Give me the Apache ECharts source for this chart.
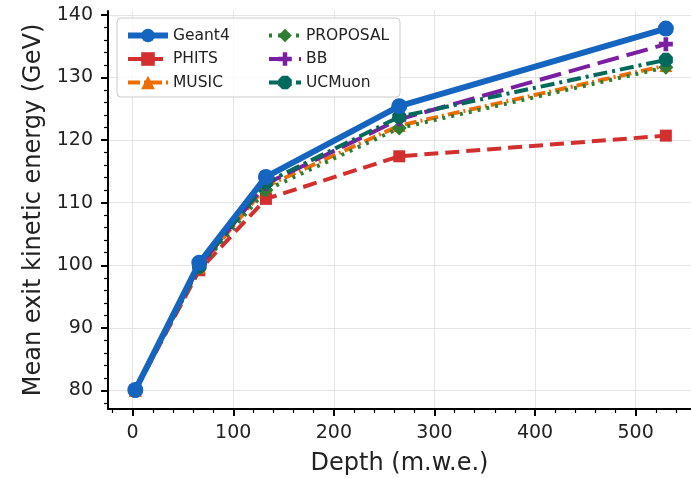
<!DOCTYPE html>
<html>
<head>
<meta charset="utf-8">
<script src="https://cdn.jsdelivr.net/npm/echarts@6/dist/echarts.min.js"></script>
<style>
  html, body { margin: 0; padding: 0; background: #ffffff; }
  #chart { width: 691px; height: 478px; }
</style>
</head>
<body>
<div id="chart"></div>
<script>
// Depth below surface in metres of water equivalent
const depths = [2.65, 66.25, 132.5, 265, 530];

// Mean kinetic energy of muons leaving the rock (GeV)
const geant4   = [80.1, 100.4, 114.1, 125.4, 137.8];
const phits    = [80.0, 99.2, 110.6, 117.4, 120.7];
const music    = [80.0, 99.7, 112.6, 122.3, 131.9];
const proposal = [80.0, 99.6, 112.0, 121.9, 131.6];
const bb       = [80.0, 99.9, 113.0, 123.3, 135.3];
const ucmuon   = [80.0, 99.8, 113.2, 123.7, 132.8];

// Axis ticks
const xTicks = [0, 100, 200, 300, 400, 500];
const yTicks = [80, 90, 100, 110, 120, 130, 140];
const xMinorStep = 20;
const yMinorStep = 2;

function minorTicks(major, step, lo, hi) {
  const out = [];
  for (let v = Math.ceil(lo / step) * step; v <= hi; v += step) {
    const r = Math.round(v * 1000) / 1000;
    if (major.indexOf(r) < 0) out.push(r);
  }
  return out;
}

const X_MIN = -24.5, X_MAX = 555;
const Y_MIN = 77.05, Y_MAX = 140.6;

const FONT = 'DejaVu Sans';
const PLUS = 'path://M-1,-3H1V-1H3V1H1V3H-1V1H-3V-1H-1Z';
const OCTAGON = 'path://M-0.414,-1L0.414,-1L1,-0.414L1,0.414L0.414,1L-0.414,1L-1,0.414L-1,-0.414Z';

const styles = [
  { name: 'PHITS',    values: phits,    color: '#d32f2f', width: 4, dash: [14, 7],       symbol: 'rect',     size: 12, z: 3 },
  { name: 'MUSIC',    values: music,    color: '#ef6c00', width: 4, dash: [12, 4, 2, 4], symbol: 'triangle', size: 13, z: 4 },
  { name: 'PROPOSAL', values: proposal, color: '#2e7d32', width: 4, dash: [3, 6],        symbol: 'diamond',  size: 15, z: 5 },
  { name: 'BB',       values: bb,       color: '#7b1fa2', width: 4, dash: [22, 8],       symbol: PLUS,       size: 14, z: 6 },
  { name: 'UCMuon',   values: ucmuon,   color: '#00695c', width: 4, dash: [14, 5, 3, 5], symbol: OCTAGON,    size: 14, z: 7 },
  { name: 'Geant4',   values: geant4,   color: '#1565c0', width: 6, dash: 'solid',       symbol: 'circle',   size: 16, z: 8 }
];

const series = styles.map(s => ({
  name: s.name,
  type: 'line',
  data: depths.map((d, i) => [d, s.values[i]]),
  symbol: s.symbol,
  symbolSize: s.size,
  showAllSymbol: true,
  z: s.z,
  lineStyle: { color: s.color, width: s.width, type: s.dash, cap: 'butt' },
  itemStyle: { color: s.color, borderWidth: 0 },
  emphasis: { disabled: true }
}));

function legendItem(name) {
  const s = styles.find(t => t.name === name);
  return { name: name, lineStyle: { width: s.width } };
}

const labelStyle = { fontFamily: FONT, fontSize: 19, color: '#222' };
const nameStyle = { fontFamily: FONT, fontSize: 24, color: '#222' };

// Main axis: spine, major ticks, labels and grid lines
function majorAxis(extra) {
  return Object.assign({
    type: 'value',
    axisLine: { show: true, onZero: false, lineStyle: { color: '#000', width: 2 } },
    splitLine: { show: true, lineStyle: { color: '#e4e4e4', width: 1 } },
    minorTick: { show: false },
    nameLocation: 'middle',
    nameTextStyle: nameStyle
  }, extra);
}

// Overlay axis carrying only the minor ticks
function minorAxis(extra) {
  return Object.assign({
    type: 'value',
    axisLine: { show: false, onZero: false },
    axisLabel: { show: false },
    splitLine: { show: false }
  }, extra);
}

const chart = echarts.init(document.getElementById('chart'), null, { renderer: 'canvas' });
chart.setOption({
  animation: false,
  backgroundColor: '#ffffff',
  grid: { left: 108, right: 0, top: 11, bottom: 69, containLabel: false, outerBoundsMode: 'none' },
  xAxis: [
    majorAxis({
      min: X_MIN, max: X_MAX, position: 'bottom',
      name: 'Depth (m.w.e.)', nameGap: 43,
      axisTick: { show: true, length: 7, customValues: xTicks, lineStyle: { color: '#000', width: 2 } },
      axisLabel: Object.assign({ margin: 15, customValues: xTicks }, labelStyle)
    }),
    minorAxis({
      min: X_MIN, max: X_MAX, position: 'bottom',
      axisTick: { show: true, length: 4, customValues: minorTicks(xTicks, xMinorStep, X_MIN, X_MAX), lineStyle: { color: '#000', width: 1.2 } }
    })
  ],
  yAxis: [
    majorAxis({
      min: Y_MIN, max: Y_MAX, position: 'left',
      name: 'Mean exit kinetic energy (GeV)', nameGap: 59,
      axisTick: { show: true, length: 7, customValues: yTicks, lineStyle: { color: '#000', width: 2 } },
      axisLabel: Object.assign({ margin: 15, customValues: yTicks }, labelStyle)
    }),
    minorAxis({
      min: Y_MIN, max: Y_MAX, position: 'left',
      axisTick: { show: true, length: 4, customValues: minorTicks(yTicks, yMinorStep, Y_MIN, Y_MAX), lineStyle: { color: '#000', width: 1.2 } }
    })
  ],
  legend: [
    {
      left: 120, top: 22, orient: 'vertical', itemGap: 6.5, itemWidth: 40, itemHeight: 17,
      data: ['Geant4', 'PHITS', 'MUSIC'].map(legendItem),
      textStyle: { fontFamily: FONT, fontSize: 15.5, color: '#222', lineHeight: 17 },
      selectedMode: false
    },
    {
      left: 262, top: 22, orient: 'vertical', itemGap: 6.5, itemWidth: 32, itemHeight: 17,
      data: ['PROPOSAL', 'BB', 'UCMuon'].map(legendItem),
      textStyle: { fontFamily: FONT, fontSize: 15.5, color: '#222', lineHeight: 17 },
      selectedMode: false
    }
  ],
  graphic: [{
    type: 'rect', z: 3, silent: true,
    shape: { x: 117, y: 18, width: 283, height: 79, r: 4 },
    style: { fill: 'rgba(255,255,255,0.8)', stroke: '#cccccc', lineWidth: 1 }
  }],
  series: series
});
</script>
</body>
</html>
